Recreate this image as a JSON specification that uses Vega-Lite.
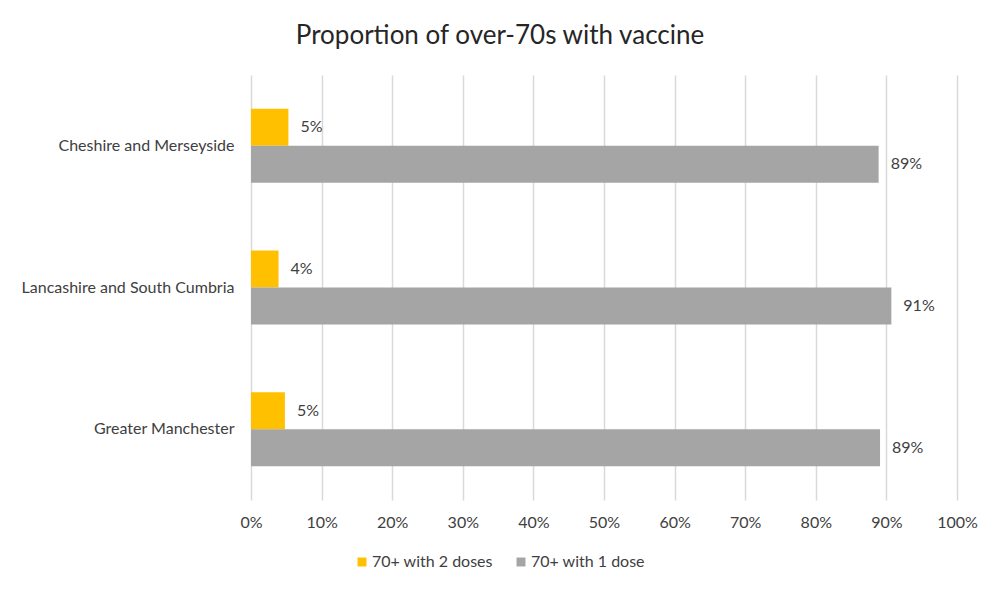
{
  "$schema": "https://vega.github.io/schema/vega-lite/v6.json",
  "autosize": "none",
  "width": 706,
  "height": 425,
  "padding": {"left": 251, "top": 75, "right": 43, "bottom": 93},
  "background": "white",
  "title": {
    "text": "Proportion of over-70s with vaccine",
    "anchor": "middle",
    "dx": -104,
    "offset": 26,
    "fontSize": 26,
    "font": "Lato",
    "fontWeight": "normal",
    "color": "#262626"
  },
  "data": {
    "values": [
      {"region": "Cheshire and Merseyside", "series": "70+ with 2 doses", "share": 0.053},
      {"region": "Cheshire and Merseyside", "series": "70+ with 1 dose", "share": 0.889},
      {"region": "Lancashire and South Cumbria", "series": "70+ with 2 doses", "share": 0.039},
      {"region": "Lancashire and South Cumbria", "series": "70+ with 1 dose", "share": 0.907},
      {"region": "Greater Manchester", "series": "70+ with 2 doses", "share": 0.048},
      {"region": "Greater Manchester", "series": "70+ with 1 dose", "share": 0.891}
    ]
  },
  "encoding": {
    "y": {
      "field": "region",
      "type": "nominal",
      "sort": ["Cheshire and Merseyside", "Lancashire and South Cumbria", "Greater Manchester"],
      "scale": {"paddingInner": 0.478, "paddingOuter": 0.239},
      "axis": {"title": null, "domain": false, "ticks": false, "labelPadding": 17, "labelFontSize": 16, "labelLimit": 300, "labelColor": "#404040", "labelFont": "Lato"}
    },
    "yOffset": {
      "field": "series",
      "type": "nominal",
      "sort": ["70+ with 2 doses", "70+ with 1 dose"]
    },
    "x": {
      "field": "share",
      "type": "quantitative",
      "scale": {"domain": [0, 1]},
      "axis": {
        "title": null,
        "format": ".0%",
        "values": [0, 0.1, 0.2, 0.3, 0.4, 0.5, 0.6, 0.7, 0.8, 0.9, 1],
        "domain": false,
        "ticks": false,
        "labelFlush": false,
        "labelPadding": 14,
        "labelFontSize": 16,
        "labelColor": "#404040",
        "labelFont": "Lato",
        "gridColor": "#d9d9d9",
        "gridWidth": 1.5
      }
    }
  },
  "layer": [
    {
      "mark": {"type": "bar"},
      "encoding": {
        "color": {
          "field": "series",
          "type": "nominal",
          "scale": {"domain": ["70+ with 2 doses", "70+ with 1 dose"], "range": ["#FFC000", "#A5A5A5"]},
          "legend": {
            "title": null,
            "orient": "none",
            "direction": "horizontal",
            "legendX": 103,
            "legendY": 479,
            "symbolType": "square",
            "symbolSize": 80,
            "symbolStrokeWidth": 0,
            "labelFontSize": 16,
            "labelColor": "#404040",
            "labelFont": "Lato",
            "columnPadding": 20,
            "labelOffset": 2
          }
        }
      }
    },
    {
      "mark": {"type": "text", "align": "left", "dx": 12, "fontSize": 16, "font": "Lato", "color": "#404040"},
      "encoding": {
        "text": {"field": "share", "type": "quantitative", "format": ".0%"}
      }
    }
  ],
  "config": {"view": {"stroke": null}}
}
